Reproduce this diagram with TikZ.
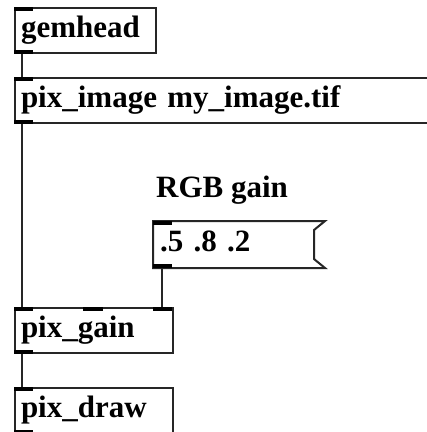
\documentclass[tikz,border=0pt]{standalone}
\usepackage{fontspec}
\setmainfont{Liberation Serif}
\usetikzlibrary{calc}
\begin{document}
\begin{tikzpicture}[x=1pt,y=-1pt,
  pdfont/.style={font=\fontsize{31pt}{31pt}\selectfont\bfseries},
  pdobj/.style={draw=black!85, line width=2pt, anchor=north west,
    inner xsep=6pt, inner ysep=0pt, minimum height=45pt,
    text height=21pt, text depth=7pt, align=left, pdfont},
  pdmsg/.style={pdobj, draw=none},
  port/.style={fill=black},
  wire/.style={draw=black!85, line width=2pt}]
  \useasboundingbox (0,0) rectangle (427,432);
  \fill[white] (0,0) rectangle (427,432);
  \clip (0,0) rectangle (427,432);

  % object boxes
  \node[pdobj, text width=129pt] (gem) at (14,7) {gemhead};
  \node[pdobj, text width=428pt] (img) at (14,77) {pix\_image my\_image.tif};
  \node[pdmsg, text width=158pt] (msg) at (153,221) {.5 .8 .2};
  \node[pdobj, text width=146pt] (gain) at (14,307) {pix\_gain};
  \node[pdobj, text width=146pt] (draw) at (14,387) {pix\_draw};

  % message box outline with flag notch
  \draw[black!85, line width=2pt, line join=miter]
    (msg.north west) -- (msg.north east) -- ++(-11,9) -- ($(msg.south east)+(-11,-9)$)
    -- (msg.south east) -- (msg.south west) -- cycle;

  % label
  \node[pdfont, anchor=base west, inner sep=0pt] (lbl) at (156,197) {RGB gain};

  % inlets and outlets
  \foreach \n in {gem,img,msg,gain,draw}{
    \fill[port] (\n.north west) rectangle ++(19,4);
    \fill[port] (\n.south west) rectangle ++(19,-4);
  }
  \fill[port] ($(gain.north west)+(69,0)$) rectangle ++(20,4);
  \fill[port] ($(gain.north west)+(139,0)$) rectangle ++(19,4);

  % connection points
  \coordinate (gemout) at ($(gem.south west)+(8,0)$);
  \coordinate (imgin) at ($(img.north west)+(8,0)$);
  \coordinate (imgout) at ($(img.south west)+(8,0)$);
  \coordinate (gainin) at ($(gain.north west)+(8,0)$);
  \coordinate (msgout) at ($(msg.south west)+(9,0)$);
  \coordinate (gainright) at ($(gain.north west)+(148,0)$);
  \coordinate (gainout) at ($(gain.south west)+(8,0)$);
  \coordinate (drawin) at ($(draw.north west)+(8,0)$);

  % connections
  \draw[wire] (gemout) -- (imgin);
  \draw[wire] (imgout) -- (gainin);
  \draw[wire] (msgout) -- (gainright);
  \draw[wire] (gainout) -- (drawin);
\end{tikzpicture}
\end{document}
